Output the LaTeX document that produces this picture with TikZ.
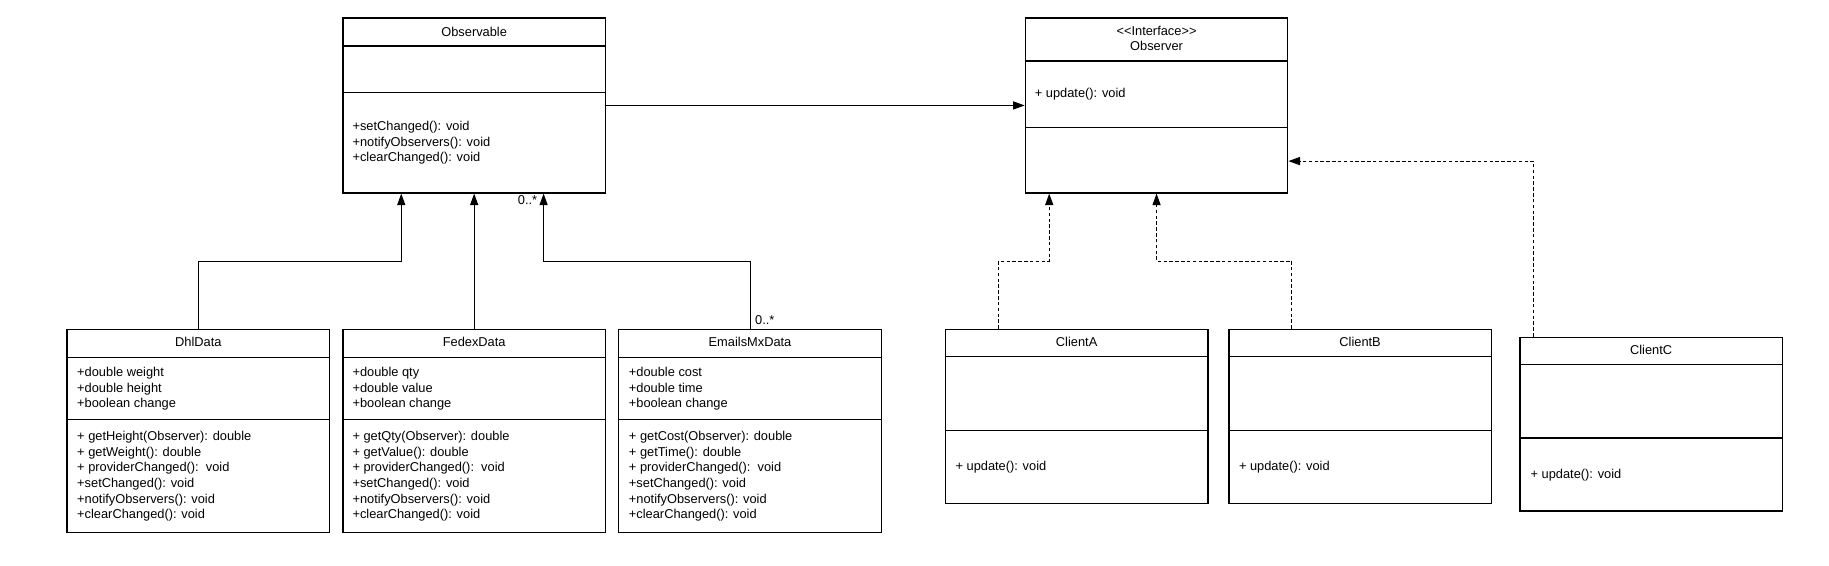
\documentclass[tikz,border=0pt]{standalone}
\usepackage{fontspec}
\setmainfont{Liberation Sans}
\usetikzlibrary{arrows.meta}

\begin{document}
\begin{tikzpicture}[x=1pt, y=1pt, font=\fontsize{11}{13.4}\selectfont,
    cls/.style={rectangle, draw, line width=1.1pt, minimum width=225pt, inner sep=0pt},
    sep/.style={line width=1.1pt},
    txt/.style={inner sep=0pt, align=left, anchor=west, yshift=-1.5pt},
    gen/.style={line width=0.9pt, -{Triangle[length=10pt, width=7pt]}},
    real/.style={gen, dash pattern=on 3pt off 2pt},
    mult/.style={inner sep=0pt}]
  \useasboundingbox (0,0) rectangle (1568,484.4);
  % Nodes
  \node (obs) [cls, minimum height=150pt] at (406.5,394) {};
  \node (obsr) [cls, minimum height=150pt] at (991.5,394) {};
  \node (dhl) [cls, minimum height=174pt] at (170,115) {};
  \node (fdx) [cls, minimum height=174pt] at (406.5,115) {};
  \node (mx) [cls, minimum height=174pt] at (643,115) {};
  \node (c-a) [cls, minimum height=149pt] at (923,127.5) {};
  \node (c-b) [cls, minimum height=149pt] at (1166,127.5) {};
  \node (c-c) [cls, minimum height=149pt] at (1415.5,120.8) {};
  % Compartments
  \draw[sep] (obs.west |- 0,445) -- (obs.east |- 0,445) (obs.west |- 0,405) -- (obs.east |- 0,405);
  \draw[sep] (obsr.west |- 0,432) -- (obsr.east |- 0,432) (obsr.west |- 0,375) -- (obsr.east |- 0,375);
  \draw[sep] (dhl.west |- 0,178) -- (dhl.east |- 0,178) (dhl.west |- 0,125) -- (dhl.east |- 0,125);
  \draw[sep] (fdx.west |- 0,178) -- (fdx.east |- 0,178) (fdx.west |- 0,125) -- (fdx.east |- 0,125);
  \draw[sep] (mx.west |- 0,178) -- (mx.east |- 0,178) (mx.west |- 0,125) -- (mx.east |- 0,125);
  \draw[sep] (c-a.west |- 0,178.5) -- (c-a.east |- 0,178.5) (c-a.west |- 0,115.4) -- (c-a.east |- 0,115.4);
  \draw[sep] (c-b.west |- 0,178.5) -- (c-b.east |- 0,178.5) (c-b.west |- 0,115.4) -- (c-b.east |- 0,115.4);
  \draw[sep] (c-c.west |- 0,172) -- (c-c.east |- 0,172) (c-c.west |- 0,109) -- (c-c.east |- 0,109);
  % Text
  \node (obs-t) at (406.5,457) {Observable};
  \node (obs-m) [txt] at (302,363.5) {+setChanged(): void\\+notifyObservers(): void\\+clearChanged(): void};
  \node (obsr-t) [align=center, inner sep=0pt] at (991.5,451.5) {<\kern0pt<Interface>\kern0pt>\\Observer};
  \node (obsr-m) [txt] at (887,405) {+ update(): void};
  \node (dhl-t) at (170,191) {DhlData};
  \node (dhl-a) [txt] at (66,152.5) {+double weight\\+double height\\+boolean change};
  \node (dhl-m) [txt] at (66,77.4) {+ getHeight(Observer): double\\+ getWeight(): double\\+ providerChanged():\ \ void\\+setChanged(): void\\+notifyObservers(): void\\+clearChanged(): void};
  \node (fdx-t) at (406.5,191) {FedexData};
  \node (fdx-a) [txt] at (302,152.5) {+double qty\\+double value\\+boolean change};
  \node (fdx-m) [txt] at (302,77.4) {+ getQty(Observer): double\\+ getValue(): double\\+ providerChanged():\ \ void\\+setChanged(): void\\+notifyObservers(): void\\+clearChanged(): void};
  \node (mx-t) at (643,191) {EmailsMxData};
  \node (mx-a) [txt] at (539,152.5) {+double cost\\+double time\\+boolean change};
  \node (mx-m) [txt] at (539,77.4) {+ getCost(Observer): double\\+ getTime(): double\\+ providerChanged():\ \ void\\+setChanged(): void\\+notifyObservers(): void\\+clearChanged(): void};
  \node (c-a-t) at (923,191) {ClientA};
  \node (c-a-m) [txt] at (819,85.4) {+ update(): void};
  \node (c-b-t) at (1166,191) {ClientB};
  \node (c-b-m) [txt] at (1062,85.4) {+ update(): void};
  \node (c-c-t) at (1415.5,184.8) {ClientC};
  \node (c-c-m) [txt] at (1312,78.8) {+ update(): void};
  % Arrows
  \draw[gen] (obs.east) -- (obsr.west);
  \draw[gen] (fdx.north) -- (obs.south);
  \draw[gen] (dhl.north) -- ++(0,58) -| ([xshift=-62.5pt]obs.south);
  \draw[gen] (mx.north) node (mul-b) [mult, anchor=south west, xshift=4pt, yshift=3pt] {0..*}
    -- ++(0,58) -| ([xshift=59.5pt]obs.south) node (mul-a) [mult, anchor=north east, xshift=-5pt, yshift=-1pt] {0..*};
  \draw[real] ([xshift=-67pt]c-a.north) -- ++(0,58) -| ([xshift=-92pt]obsr.south);
  \draw[real] ([xshift=-58.5pt]c-b.north) -- ++(0,58) -| (obsr.south);
  \draw[real] ([xshift=-101pt]c-c.north) |- ([yshift=-47.7pt]obsr.east);
\end{tikzpicture}
\end{document}
